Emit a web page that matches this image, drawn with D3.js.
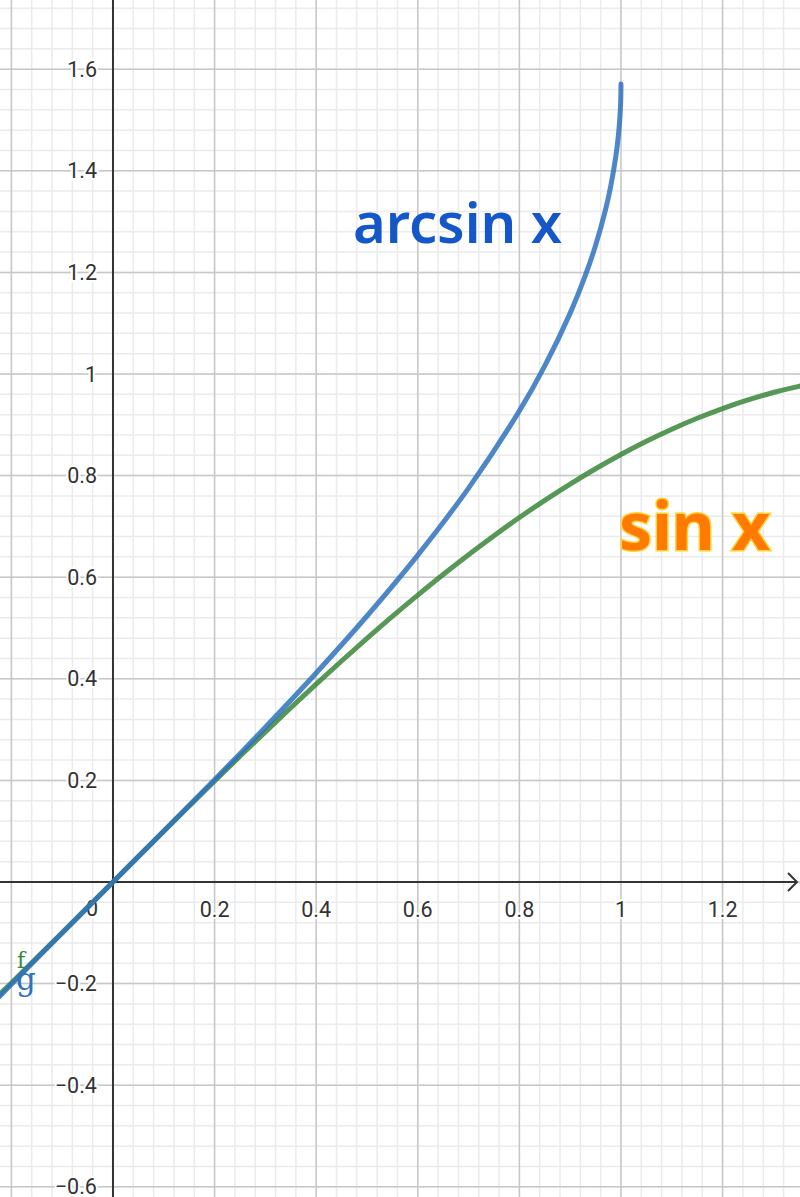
<!DOCTYPE html>
<html><head><meta charset="utf-8">
<script src="https://cdn.jsdelivr.net/npm/d3@7"></script>
<style>html,body{margin:0;padding:0;background:#fff;}svg{display:block;}</style>
</head><body>
<script>
// sin x samples
const sinX = [-0.25,-0.20,-0.15,-0.10,-0.05,0,0.05,0.10,0.15,0.20,0.25,0.30,0.35,0.40,0.45,0.50,0.55,0.60,0.65,0.70,0.75,0.80,0.85,0.90,0.95,1.00,1.05,1.10,1.15,1.20,1.25,1.30,1.35,1.40];
const sinY = [-0.2474,-0.1987,-0.1494,-0.0998,-0.0500,0,0.0500,0.0998,0.1494,0.1987,0.2474,0.2955,0.3429,0.3894,0.4350,0.4794,0.5227,0.5646,0.6052,0.6442,0.6816,0.7174,0.7513,0.7833,0.8134,0.8415,0.8674,0.8912,0.9128,0.9320,0.9490,0.9636,0.9757,0.9854];
// arcsin x samples
const asinX = [-0.25,-0.20,-0.10,0,0.10,0.20,0.30,0.40,0.50,0.60,0.70,0.80,0.85,0.90,0.93,0.95,0.97,0.98,0.99,0.995,0.998,0.9995,1.0];
const asinY = [-0.2527,-0.2014,-0.1002,0,0.1002,0.2014,0.3047,0.4115,0.5236,0.6435,0.7754,0.9273,1.0160,1.1198,1.1944,1.2532,1.3252,1.3705,1.4293,1.4706,1.5075,1.5392,1.5708];
const xTicks = [0.2,0.4,0.6,0.8,1,1.2];
const xTickLabels = ["0.2","0.4","0.6","0.8","1","1.2"];
const yTicks = [-0.6,-0.4,-0.2,0.2,0.4,0.6,0.8,1,1.2,1.4,1.6];
const yTickLabels = ["\u22120.6","\u22120.4","\u22120.2","0.2","0.4","0.6","0.8","1","1.2","1.4","1.6"];

const W = 800, H = 1197;
const x = d3.scaleLinear().domain([-0.2224, 1.3524]).range([0, W]);
const y = d3.scaleLinear().domain([-0.6201, 1.7362]).range([H, 0]);

const svg = d3.select("body").append("svg").attr("width", W).attr("height", H);

// minor grid
const minorX = d3.range(-6, 35).map(i => i * 0.04);
const minorY = d3.range(-16, 45).map(i => i * 0.04);
svg.append("g").selectAll("line").data(minorX).join("line")
  .attr("x1", d => x(d)).attr("x2", d => x(d)).attr("y1", 0).attr("y2", H)
  .attr("stroke", "#ebebeb").attr("stroke-width", 1.5);
svg.append("g").selectAll("line").data(minorY).join("line")
  .attr("y1", d => y(d)).attr("y2", d => y(d)).attr("x1", 0).attr("x2", W)
  .attr("stroke", "#ebebeb").attr("stroke-width", 1.5);
// major grid
const majorX = d3.range(-1, 7).map(i => i * 0.2);
const majorY = d3.range(-3, 9).map(i => i * 0.2);
svg.append("g").selectAll("line").data(majorX).join("line")
  .attr("x1", d => x(d)).attr("x2", d => x(d)).attr("y1", 0).attr("y2", H)
  .attr("stroke", "#c8c8c8").attr("stroke-width", 1.5);
svg.append("g").selectAll("line").data(majorY).join("line")
  .attr("y1", d => y(d)).attr("y2", d => y(d)).attr("x1", 0).attr("x2", W)
  .attr("stroke", "#c8c8c8").attr("stroke-width", 1.5);

// axes
svg.append("line").attr("x1", 0).attr("x2", W - 3).attr("y1", y(0)).attr("y2", y(0))
  .attr("stroke", "#333").attr("stroke-width", 2);
svg.append("path").attr("d", `M${W-12},${y(0)-9} L${W-3},${y(0)} L${W-12},${y(0)+9}`)
  .attr("fill", "none").attr("stroke", "#333").attr("stroke-width", 2);
svg.append("line").attr("x1", x(0)).attr("x2", x(0)).attr("y1", 0).attr("y2", H)
  .attr("stroke", "#333").attr("stroke-width", 2);

// tick labels
const lblFont = "Roboto, 'Noto Sans', sans-serif";
const xl = svg.append("g").attr("font-family", lblFont).attr("font-size", 21.5).attr("fill", "#333");
xTicks.forEach((t, i) => {
  xl.append("text").attr("x", x(t)).attr("y", y(0) + 35).attr("text-anchor", "middle")
    .attr("paint-order", "stroke").attr("stroke", "#fff").attr("stroke-width", 4)
    .text(xTickLabels[i]);
});
xl.append("text").attr("x", x(0) - 15).attr("y", y(0) + 34).attr("text-anchor", "end")
  .attr("paint-order", "stroke").attr("stroke", "#fff").attr("stroke-width", 4).text("0");
yTicks.forEach((t, i) => {
  xl.append("text").attr("x", x(0) - 16).attr("y", y(t)).attr("dy", "0.35em").attr("text-anchor", "end")
    .attr("paint-order", "stroke").attr("stroke", "#fff").attr("stroke-width", 4)
    .text(yTickLabels[i]);
});

// curves
const line = d3.line().x(d => x(d[0])).y(d => y(d[1])).curve(d3.curveCatmullRom.alpha(0.5));
const sinData = sinX.map((v, i) => [v, sinY[i]]);
const asinData = asinX.map((v, i) => [v, asinY[i]]);
svg.append("path").datum(sinData).attr("d", line)
  .attr("fill", "none").attr("stroke", "#3a863a").attr("stroke-opacity", 0.85)
  .attr("stroke-width", 5).attr("stroke-linecap", "round");
svg.append("path").datum(asinData).attr("d", line)
  .attr("fill", "none").attr("stroke", "#2f72bd").attr("stroke-opacity", 0.85)
  .attr("stroke-width", 5).attr("stroke-linecap", "round");

// curve names
svg.append("text").attr("x", 17).attr("y", 968).attr("font-family", "'DejaVu Serif', 'Liberation Serif', serif")
  .attr("font-size", 22).attr("fill", "#3a863a").text("f");
svg.append("text").attr("x", 16).attr("y", 990).attr("font-family", "'DejaVu Serif', 'Liberation Serif', serif")
  .attr("font-size", 31).attr("fill", "#2f72bd").text("g");

// big labels
svg.append("text").attr("x", 353).attr("y", 243).attr("font-family", "'Noto Sans', sans-serif")
  .attr("font-weight", 600).attr("font-size", 56).attr("fill", "#1457c8").text("arcsin x");
svg.append("text").attr("x", 619).attr("y", 550).attr("font-family", "'Noto Sans', sans-serif")
  .attr("font-weight", 700).attr("font-size", 66).attr("fill", "#ff7a00")
  .attr("stroke", "#ffd43a").attr("stroke-width", 3).attr("paint-order", "stroke").text("sin x");
</script>
</body></html>
